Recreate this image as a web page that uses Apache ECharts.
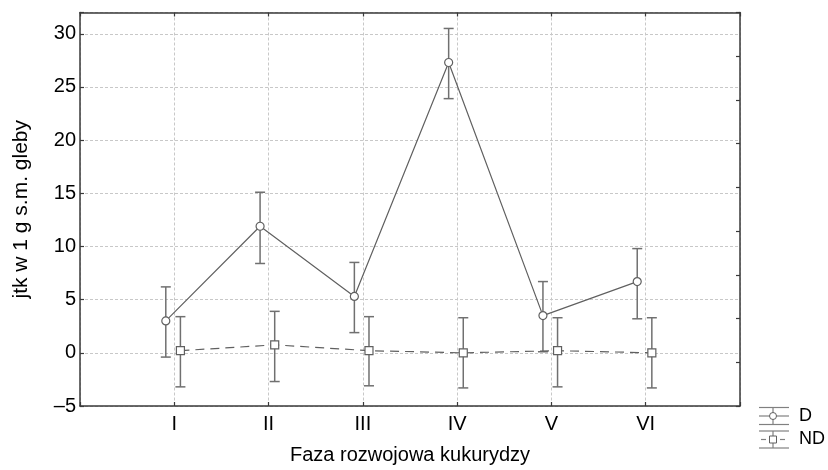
<!DOCTYPE html>
<html>
<head>
<meta charset="utf-8">
<script src="https://cdn.jsdelivr.net/npm/echarts@6/dist/echarts.min.js"></script>
<style>
html,body{margin:0;padding:0;background:#fff;}
#chart{width:828px;height:470px;}
</style>
</head>
<body>
<div id="chart"></div>
<script>
// ---- data ----
const categories = ['I', 'II', 'III', 'IV', 'V', 'VI'];
const dMean  = [3.0, 11.9, 5.3, 27.3, 3.5, 6.7];
const dLow   = [-0.4, 8.4, 1.9, 23.9, 0.1, 3.2];
const dHigh  = [6.2, 15.1, 8.5, 30.5, 6.7, 9.8];
const ndMean = [0.2, 0.75, 0.2, 0.0, 0.2, 0.0];
const ndLow  = [-3.2, -2.7, -3.1, -3.3, -3.2, -3.3];
const ndHigh = [3.4, 3.9, 3.4, 3.3, 3.3, 3.3];
const seriesNames = ['D', 'ND'];
const yAxisName = 'jtk w 1 g s.m. gleby';
const xAxisName = 'Faza rozwojowa kukurydzy';

// ---- layout / style ----
const D_SHIFT = -0.09, ND_SHIFT = 0.065;
const FONT = 'Liberation Sans, Arial, sans-serif';
const AXIS_COLOR = '#3a3a3a';
const LINE_COLOR = '#606060';
const ERR_COLOR = '#707070';
const GRID_COLOR = '#c8c8c8';

const dPts = categories.map((c, i) => [i + 1 + D_SHIFT, dMean[i]]);
const ndPts = categories.map((c, i) => [i + 1 + ND_SHIFT, ndMean[i]]);
const dErr = categories.map((c, i) => [i + 1 + D_SHIFT, dLow[i], dHigh[i]]);
const ndErr = categories.map((c, i) => [i + 1 + ND_SHIFT, ndLow[i], ndHigh[i]]);

function errRender(params, api) {
  const x = api.value(0), lo = api.value(1), hi = api.value(2);
  const a = api.coord([x, hi]), b = api.coord([x, lo]);
  const w = 5;
  const st = { stroke: ERR_COLOR, lineWidth: 1.5 };
  return {
    type: 'group',
    children: [
      { type: 'line', shape: { x1: a[0], y1: a[1], x2: b[0], y2: b[1] }, style: st },
      { type: 'line', shape: { x1: a[0] - w, y1: a[1], x2: a[0] + w, y2: a[1] }, style: st },
      { type: 'line', shape: { x1: b[0] - w, y1: b[1], x2: b[0] + w, y2: b[1] }, style: st }
    ]
  };
}

const chart = echarts.init(document.getElementById('chart'), null, { renderer: 'canvas' });

const axisLineStyle = { show: true, onZero: false, lineStyle: { color: AXIS_COLOR, width: 1.5 } };
const tickStyle = { show: true, inside: true, length: 4, lineStyle: { color: AXIS_COLOR, width: 1.2 } };
const splitStyle = { show: true, lineStyle: { color: GRID_COLOR, type: [3, 2], width: 1 } };

// legend icons
const lgX0 = 759, lgX1 = 789, lgXc = 773;
const lgStroke = { stroke: '#808080', lineWidth: 1.2 };
const graphics = [
  // D
  { type: 'line', shape: { x1: lgX0, y1: 407.5, x2: lgX1, y2: 407.5 }, style: lgStroke },
  { type: 'line', shape: { x1: lgX0, y1: 424.5, x2: lgX1, y2: 424.5 }, style: lgStroke },
  { type: 'line', shape: { x1: lgX0, y1: 416, x2: lgX1, y2: 416 }, style: lgStroke },
  { type: 'line', shape: { x1: lgXc, y1: 407.5, x2: lgXc, y2: 424.5 }, style: lgStroke },
  { type: 'circle', shape: { cx: lgXc, cy: 416, r: 3.5 }, style: { fill: '#fff', stroke: '#606060', lineWidth: 1 } },
  { type: 'text', left: 799, top: 407, style: { text: seriesNames[0], font: '18px ' + FONT, fill: '#000' } },
  // ND
  { type: 'line', shape: { x1: lgX0, y1: 431, x2: lgX1, y2: 431 }, style: lgStroke },
  { type: 'line', shape: { x1: lgX0, y1: 448, x2: lgX1, y2: 448 }, style: lgStroke },
  { type: 'line', shape: { x1: 761, y1: 439.5, x2: 766, y2: 439.5 }, style: lgStroke },
  { type: 'line', shape: { x1: 780, y1: 439.5, x2: 785, y2: 439.5 }, style: lgStroke },
  { type: 'line', shape: { x1: lgXc, y1: 431, x2: lgXc, y2: 448 }, style: lgStroke },
  { type: 'rect', shape: { x: lgXc - 3.5, y: 436, width: 7, height: 7 }, style: { fill: '#fff', stroke: '#606060', lineWidth: 1 } },
  { type: 'text', left: 799, top: 430, style: { text: seriesNames[1], font: '18px ' + FONT, fill: '#000' } }
];

chart.setOption({
  animation: false,
  backgroundColor: '#fff',
  grid: { left: 80, top: 12.5, width: 660, height: 393.5, containLabel: false },
  xAxis: [
    {
      type: 'value', min: 0, max: 7, interval: 1, position: 'bottom',
      axisLine: axisLineStyle, axisTick: tickStyle,
      axisLabel: {
        formatter: v => categories[v - 1] || '',
        fontSize: 20, fontFamily: FONT, color: '#000', margin: 8
      },
      splitLine: splitStyle,
      name: xAxisName, nameLocation: 'middle', nameGap: 39,
      nameTextStyle: { fontSize: 20, fontFamily: FONT, color: '#000' }
    },
    {
      type: 'value', min: 0, max: 7, interval: 1, position: 'top',
      axisLine: axisLineStyle, axisTick: tickStyle,
      axisLabel: { show: false }, splitLine: { show: false }
    }
  ],
  yAxis: [
    {
      type: 'value', min: -5, max: 32, interval: 5, position: 'left',
      axisLine: axisLineStyle, axisTick: tickStyle,
      axisLabel: {
        formatter: v => (v % 5 !== 0 ? '' : (v < 0 ? '\u2013' + (-v) : String(v))),
        fontSize: 20, fontFamily: FONT, color: '#000', margin: 4
      },
      splitLine: splitStyle,
      name: yAxisName, nameLocation: 'middle', nameGap: 48, nameRotate: 90,
      nameTextStyle: { fontSize: 21, fontFamily: FONT, color: '#000' }
    },
    {
      type: 'value', min: 0, max: 9, interval: 1, position: 'right',
      axisLine: axisLineStyle, axisTick: tickStyle,
      axisLabel: { show: false }, splitLine: { show: false }
    }
  ],
  series: [
    {
      type: 'custom', name: 'D err', renderItem: errRender, data: dErr,
      encode: { x: 0, y: [1, 2] }, z: 2, silent: true
    },
    {
      type: 'custom', name: 'ND err', renderItem: errRender, data: ndErr,
      encode: { x: 0, y: [1, 2] }, z: 2, silent: true
    },
    {
      type: 'line', name: seriesNames[0], data: dPts, z: 3,
      symbol: 'circle', symbolSize: 8,
      lineStyle: { color: LINE_COLOR, width: 1.2 },
      itemStyle: { color: '#fff', borderColor: '#606060', borderWidth: 1.2 }
    },
    {
      type: 'line', name: seriesNames[1], data: ndPts, z: 3,
      symbol: 'rect', symbolSize: 8,
      lineStyle: { color: LINE_COLOR, width: 1.2, type: [9, 6] },
      itemStyle: { color: '#fff', borderColor: '#606060', borderWidth: 1.2 }
    }
  ],
  graphic: graphics
});
</script>
</body>
</html>
